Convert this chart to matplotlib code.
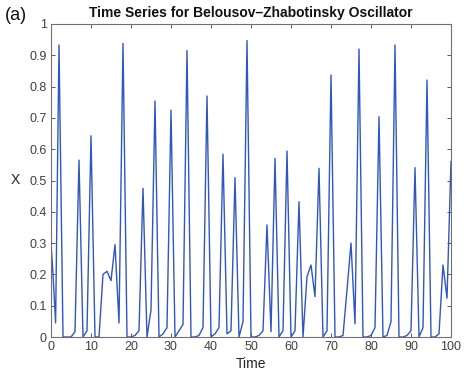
import matplotlib
matplotlib.use("Agg")
import matplotlib.pyplot as plt

time = [0, 0.5, 1.15, 2, 3, 4, 5, 6, 7, 8, 9, 10, 11, 12, 13, 14, 15, 16, 17, 18, 19,
        20, 21, 22, 23, 24, 25, 26, 27, 28, 29, 30, 31, 32, 33, 34, 35, 36, 37, 38, 39,
        40, 41, 42, 43, 44, 45, 46, 47, 48, 49, 50, 51, 52, 53, 54, 55, 56, 57, 58, 59,
        60, 61, 62, 63, 64, 65, 66, 67, 68, 69, 70, 71, 72, 73, 74, 75, 76, 77, 78, 79,
        80, 81, 82, 83, 84, 85, 86, 87, 88, 89, 90, 91, 92, 93, 94, 95, 96, 97, 98, 99, 100]
x_vals = [0.30, 0.20, 0.045, 0.933, 0.0, 0.0, 0.0, 0.017, 0.565, 0.0, 0.02, 0.643, 0.0, 0.0,
          0.20, 0.21, 0.18, 0.295, 0.045, 0.938, 0.0,
          0.0, 0.005, 0.02, 0.475, 0.0, 0.086, 0.754, 0.0, 0.01, 0.03, 0.725, 0.0, 0.02, 0.04,
          0.915, 0.0, 0.0, 0.005, 0.03, 0.77,
          0.0, 0.01, 0.03, 0.584, 0.01, 0.02, 0.509, 0.0, 0.049, 0.947,
          0.0, 0.0, 0.005, 0.02, 0.358, 0.017, 0.571, 0.0, 0.02, 0.594,
          0.0, 0.02, 0.432, 0.0, 0.193, 0.23, 0.129, 0.539, 0.0, 0.02, 0.837,
          0.0, 0.0, 0.005, 0.15, 0.30, 0.042, 0.92, 0.0, 0.0,
          0.005, 0.03, 0.704, 0.0, 0.005, 0.049, 0.933, 0.0, 0.0, 0.005,
          0.02, 0.541, 0.0, 0.03, 0.821, 0.0, 0.0, 0.01, 0.23, 0.124, 0.56]

x_ticks = list(range(0, 101, 10))
y_ticks = [0, 0.1, 0.2, 0.3, 0.4, 0.5, 0.6, 0.7, 0.8, 0.9, 1]
y_ticklabels = ["0", "0.1", "0.2", "0.3", "0.4", "0.5", "0.6", "0.7", "0.8", "0.9", "1"]

plt.rcParams['font.family'] = ['Liberation Sans', 'DejaVu Sans']

fig = plt.figure(figsize=(4.68, 3.77), dpi=100)
ax = fig.add_axes([51/468, 1-337/377, 400/468, 313/377])
ax.plot(time, x_vals, color='#3056c2', linewidth=1.0)
ax.set_xlim(0, 100)
ax.set_ylim(0, 1)
ax.set_xticks(x_ticks)
ax.set_yticks(y_ticks)
ax.set_yticklabels(y_ticklabels)
ax.tick_params(direction='in', top=True, right=True, length=3, width=0.6,
               labelsize=9, colors='#404040', pad=3)
for s in ax.spines.values():
    s.set_color('#707070')
    s.set_linewidth(0.8)
ax.set_xlabel('Time', fontsize=10, color='#262626', labelpad=3)
ax.set_ylabel('X', fontsize=10, color='#262626', rotation=0, labelpad=10, va='center')
ax.set_title('Time Series for Belousov\u2013Zhabotinsky Oscillator', fontsize=10,
             fontweight='bold', color='#111111', pad=5)
fig.text(5/468, 1-15/377, '(a)', fontsize=13, color='#111111', va='center', ha='left')

fig.savefig('out.png', dpi=100)
